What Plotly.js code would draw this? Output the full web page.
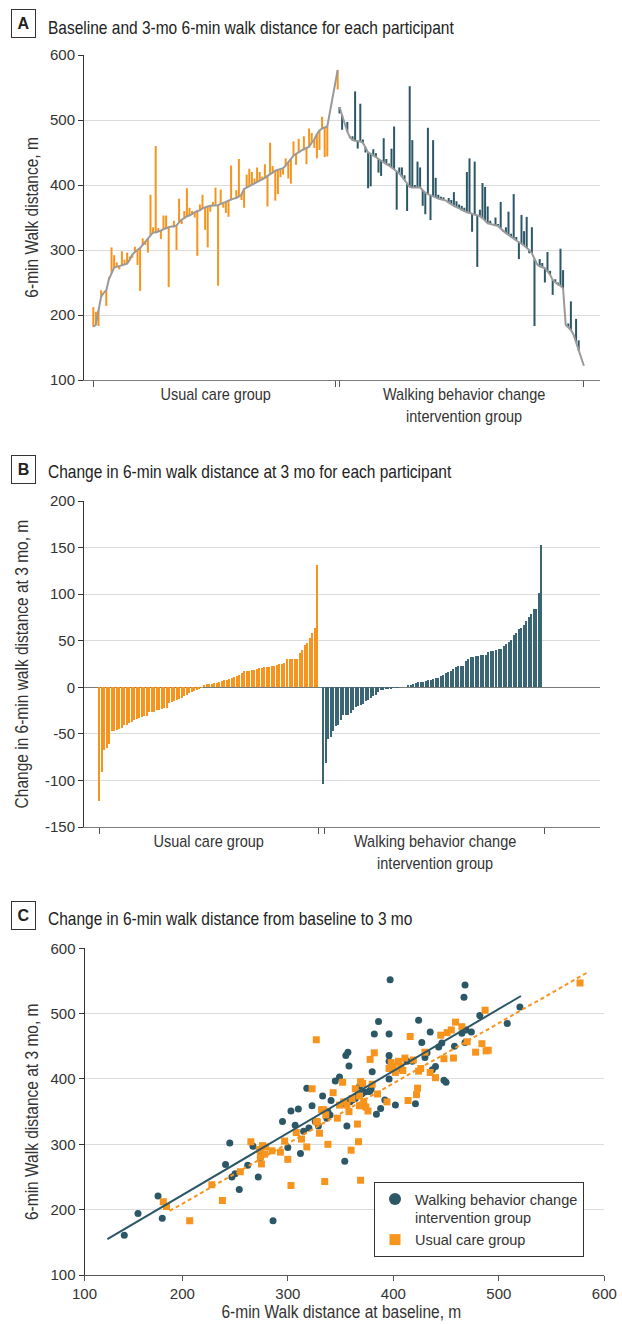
<!DOCTYPE html>
<html><head><meta charset="utf-8">
<script src="https://cdn.plot.ly/plotly-3.0.1.min.js"></script>
<style>html,body{margin:0;padding:0;background:#fff}#chart{width:622px;height:1324px}</style>
</head><body><div id="chart"></div>
<script>
// ---------- DATA ----------
// Panel A / C: usual care participants, ordered by baseline (m)
const ucBaseline = [182,185,207,228,234,238,255,265,273,274,
 275,276,278,279,285,293,297,300,303,308,
 313,318,323,327,327,328,330,332,334,335,
 336,336,338,343,347,349,352,353,356,358,
 360,361,364,366,367,368,368,369,369,371,
 372,374,376,378,379,380,382,385,394,396,
 398,400,402,405,407,409,411,414,416,419,
 422,423,424,426,430,435,440,445,448,451,
 453,455,457,459,465,470,478,484,487,488,
 490,512,535,556,577];
const ucMonth3 = [212,205,183,238,null,214,258,304,292,281,
 270,298,285,296,290,288,305,277,237,318,
 308,296,385,335,460,334,317,353,353,243,
 null,345,300,379,340,360,395,365,360,350,
 291,370,385,331,304,359,374,396,245,393,
 365,357,351,430,null,392,440,377,365,416,
 425,420,410,427,420,413,432,367,465,429,
 376,386,412,416,441,410,402,467,431,471,
 null,475,432,487,480,457,441,454,505,443,
 444,null,null,null,547];
// intervention participants, ordered by baseline (descending)
const intBaseline = [520,508,495,482,474,469,468,468,467,465,
 458,450,448,446,443,440,437,435,432,430,
 427,424,421,418,413,408,402,397,396,396,
 396,396,392,388,386,384,382,380,379,378,
 377,376,373,370,368,366,364,361,359,358,
 357,356,355,354,352,349,345,341,340,339,
 338,337,333,329,326,323,320,318,315,312,
 310,307,303,300,295,286,278,275,274,272,
 267,262,254,250,247,245,241,185,181,177,
 170,158,145,133,122];
const intMonth3 = [510,485,null,497,472,475,544,456,525,470,
 450,395,398,455,449,419,414,472,440,433,
 456,490,362,427,427,415,360,552,469,400,
 436,427,368,355,488,346,469,411,385,382,
 381,null,380,377,389,375,370,368,365,420,
 441,328,436,274,362,403,397,367,345,null,
 350,340,374,328,335,359,325,386,320,286,
 354,329,351,295,335,183,null,286,280,250,
 297,268,231,255,250,302,269,null,187,221,
 null,194,161,null,null];
// Panel B: sorted change at 3 mo (m)
const ucChangeSorted = [-122,-91,-67,-65,-61,-47,-47,-46,-45,-44,
 -41,-40,-38,-37,-35,-34,-33,-32,-31,-31,
 -27,-27,-26,-24,-24,-23,-22,-22,-17,-16,
 -15,-14,-13,-11,-9,-8,-6,-5,-4,-3,-2,-1,
 2,3,4,4,5,5,6,7,8,8,9,10,11,12,13,15,17,18,18,19,19,20,21,21,22,22,22,23,23,24,25,25,26,
 30,30,30,30,30,37,40,45,48,53,58,64,131];
const intChangeSorted = [-104,-81,-56,-53,-47,-42,-40,-35,-30,-30,
 -30,-28,-24,-21,-20,-19,-18,-15,-14,-12,
 -9,-8,-5,-3,-2.5,-2,-2,-1.5,-1,-1,-0.5,
 0,0,0,
 2,2.5,3.5,4.5,6,6,6,7,7.5,8,8.5,9.5,10,12,13,15,16,17,20,22,23,23,23,28,30,32,33,33.5,34,35,35,35,
 38,38.5,39,40,41,41.5,44,47,49,51,56,58,63,64,67,71,75,79,84,84,101,153];
// Panel C: fitted lines
const intFitBaseline = [129, 521], intFit3mo = [155, 527];
const ucFitBaseline = [188, 584], ucFit3mo = [198, 563];
// Text
const groupNames = ['Usual care group', 'Walking behavior change<br>intervention group'];
const legendNames = ['Walking behavior change<br>intervention group', 'Usual care group'];
const panelTitles = ['Baseline and 3-mo 6-min walk distance for each participant',
  'Change in 6-min walk distance at 3 mo for each participant',
  'Change in 6-min walk distance from baseline to 3 mo'];
const yTitles = ['6-min Walk distance, m', 'Change in 6-min walk distance at 3 mo, m', '6-min Walk distance at 3 mo, m'];
const xTitleC = '6-min Walk distance at baseline, m';
const ticksA = [100,200,300,400,500,600];
const ticksB = [-150,-100,-50,0,50,100,150,200];
const ticksCx = [200,300,400,500,600];
const ticksCy = [100,200,300,400,500,600];

// ---------- STYLE ----------
const W = 622, H = 1324;
const ORANGE = '#F7941D', TEAL = '#2B5767', TEALBAR = '#3A6575', GRAY = '#9A9A9A';
const FONT = '"Liberation Sans", Arial, sans-serif';
const px = x => x / W, py = y => 1 - y / H;

// positions (participant rank on the x axis)
const INT_OFFSET_A = 94.7, INT_OFFSET_B = 89.4;
const ucPosA = ucBaseline.map((_, i) => i);
const intPosA = intBaseline.map((_, j) => INT_OFFSET_A + j);
const ucPosB = ucChangeSorted.map((_, i) => i);
const intPosB = intChangeSorted.map((_, j) => INT_OFFSET_B + j);

function segments(pos, base, m3) {
  const xs = [], ys = [];
  pos.forEach((p, i) => { if (m3[i] !== null) { xs.push(p, p, null); ys.push(base[i], m3[i], null); } });
  return {x: xs, y: ys};
}
function pairs(base, m3) {
  const xs = [], ys = [];
  base.forEach((b, i) => { if (m3[i] !== null) { xs.push(b); ys.push(m3[i]); } });
  return {x: xs, y: ys};
}
const ucSeg = segments(ucPosA, ucBaseline, ucMonth3);
const intSeg = segments(intPosA, intBaseline, intMonth3);
const ucPts = pairs(ucBaseline, ucMonth3);
const intPts = pairs(intBaseline, intMonth3);

const traces = [
  // Panel A
  {type:'scatter', mode:'lines', x: ucSeg.x, y: ucSeg.y, xaxis:'x', yaxis:'y', line:{color: ORANGE, width: 2}, connectgaps:false, showlegend:false},
  {type:'scatter', mode:'lines', x: intSeg.x, y: intSeg.y, xaxis:'x', yaxis:'y', line:{color: TEAL, width: 2}, connectgaps:false, showlegend:false},
  {type:'scatter', mode:'lines', x: ucPosA, y: ucBaseline, xaxis:'x', yaxis:'y', line:{color: GRAY, width: 2}, showlegend:false},
  {type:'scatter', mode:'lines', x: intPosA, y: intBaseline, xaxis:'x', yaxis:'y', line:{color: GRAY, width: 2}, showlegend:false},
  // Panel B
  {type:'bar', x: ucPosB, y: ucChangeSorted, xaxis:'x2', yaxis:'y2', width: 0.8, marker:{color: ORANGE, line:{width:0}}, showlegend:false},
  {type:'bar', x: intPosB, y: intChangeSorted, xaxis:'x2', yaxis:'y2', width: 0.8, marker:{color: TEALBAR, line:{width:0}}, showlegend:false},
  // Panel C
  {type:'scatter', mode:'markers', x: intPts.x, y: intPts.y, xaxis:'x3', yaxis:'y3', marker:{symbol:'circle', size:7, color: TEAL}, showlegend:false},
  {type:'scatter', mode:'markers', x: ucPts.x, y: ucPts.y, xaxis:'x3', yaxis:'y3', marker:{symbol:'square', size:7, color: ORANGE}, showlegend:false},
  {type:'scatter', mode:'lines', x: intFitBaseline, y: intFit3mo, xaxis:'x3', yaxis:'y3', line:{color: TEAL, width: 2}, showlegend:false},
  {type:'scatter', mode:'lines', x: ucFitBaseline, y: ucFit3mo, xaxis:'x3', yaxis:'y3', line:{color: ORANGE, width: 2, dash:'4px,3px'}, showlegend:false},
  // legend entries
  {type:'scatter', mode:'markers', x:[null], y:[null], xaxis:'x3', yaxis:'y3', name: legendNames[0], marker:{symbol:'circle', size:12, color: TEAL}, showlegend:true},
  {type:'scatter', mode:'markers', x:[null], y:[null], xaxis:'x3', yaxis:'y3', name: legendNames[1], marker:{symbol:'square', size:11, color: ORANGE}, showlegend:true}
];

const tickFont = {family: FONT, size: 15, color: '#333'};
const baseY = {showline:true, linecolor:'#333', linewidth:1, ticks:'outside', ticklen:5, tickcolor:'#333', tickwidth:1,
  showgrid:true, gridcolor:'#DCDCDC', gridwidth:1, zeroline:false, tickfont: tickFont, fixedrange:true, tickmode:'array'};
const baseX = {showline:true, linecolor:'#7d7d7d', linewidth:1, ticks:'outside', ticklen:6, tickcolor:'#555', tickwidth:1,
  showgrid:false, zeroline:false, tickfont: tickFont, fixedrange:true, tickmode:'array'};

const layout = {
  width: W, height: H, margin:{l:0, r:0, t:0, b:0}, paper_bgcolor:'#fff', plot_bgcolor:'#fff',
  showlegend: true, bargap: 0,
  font:{family: FONT, color:'#333'},
  xaxis: Object.assign({}, baseX, {domain:[px(84), px(600)], range:[-3.58, 194.9], anchor:'y',
    tickvals:[0, 93.2, 94.6, 188.7], ticktext:['','','','']}),
  yaxis: Object.assign({}, baseY, {domain:[py(380), py(55)], range:[100, 600], anchor:'x',
    tickvals: ticksA, ticktext: ticksA.map(String)}),
  xaxis2: Object.assign({}, baseX, {domain:[px(84), px(600)], range:[-6, 199.9], anchor:'y2',
    tickvals:[0, 87.4, 89.8, 177.7], ticktext:['','','','']}),
  yaxis2: Object.assign({}, baseY, {domain:[py(827), py(501)], range:[-150, 200], anchor:'x2',
    tickvals: ticksB, ticktext: ticksB.map(String), zeroline:true, zerolinecolor:'#7a7a7a', zerolinewidth:1.5}),
  xaxis3: Object.assign({}, baseX, {domain:[px(84.5), px(604.3)], range:[107.3, 600], anchor:'y3',
    linecolor:'#555', ticklen:5, tickvals:[107.3].concat(ticksCx), ticktext:['100'].concat(ticksCx.map(String))}),
  yaxis3: Object.assign({}, baseY, {domain:[py(1275), py(948.3)], range:[100, 600], anchor:'x3',
    tickvals: ticksCy, ticktext: ticksCy.map(String)}),
  legend:{x: px(374), y: py(1182), xanchor:'left', yanchor:'top', bordercolor:'#333', borderwidth:1, bgcolor:'#fff',
    font:{family: FONT, size: 14.5, color:'#333'}, valign:'top', tracegroupgap: 0},
  annotations: []
};

// condensed text: drawn at a larger size, then squeezed to the width of the smaller size
const COND = {'18.5px': 15.5/18.5, '17px': 14.5/17, '17.5px': 15.5/17.5};
const LEFT_ALIGNED = '18.5px';
const letters = ['A','B','C'];
const titleY = [27, 472, 918];
letters.forEach((L, k) => {
  layout.annotations.push({xref:'paper', yref:'paper', x: px(23.5), y: py(titleY[k] - 3), xanchor:'center', yanchor:'middle',
    text: L, showarrow:false, font:{family: FONT, size:16, color:'#222', weight: 700},
    bordercolor:'#333', borderwidth:1, borderpad:1.5, width:20, height:24});
  layout.annotations.push({xref:'paper', yref:'paper', x: px(46), y: py(titleY[k]), xanchor:'left', yanchor:'middle',
    text: panelTitles[k], showarrow:false, font:{family: FONT, size:18.5, color:'#222'}});
});
// y axis titles
[[218, 32], [664, 22], [1112, 32]].forEach(([cy, cx], k) => {
  layout.annotations.push({xref:'paper', yref:'paper', x: px(cx), y: py(cy), xanchor:'center', yanchor:'middle',
    textangle:-90, text: yTitles[k], showarrow:false, font:{family: FONT, size:17.5, color:'#333'}});
});
layout.annotations.push({xref:'paper', yref:'paper', x: px(342), y: py(1312), xanchor:'center', yanchor:'middle',
  text: xTitleC, showarrow:false, font:{family: FONT, size:17.5, color:'#333'}});
// group labels
[[215, 383, 464], [208, 830, 435]].forEach(([c1, top, c2]) => {
  layout.annotations.push({xref:'paper', yref:'paper', x: px(c1), y: py(top), xanchor:'center', yanchor:'top',
    text: groupNames[0], showarrow:false, font:{family: FONT, size:17, color:'#333'}});
  layout.annotations.push({xref:'paper', yref:'paper', x: px(c2), y: py(top), xanchor:'center', yanchor:'top',
    text: groupNames[1], showarrow:false, font:{family: FONT, size:17, color:'#333'}});
});

function condense() {
  document.querySelectorAll('text.annotation-text').forEach(t => {
    const fs = t.style.fontSize;
    const r = COND[fs];
    if (!r) return;
    const lines = t.querySelectorAll('tspan.line');
    const els = lines.length ? Array.from(lines) : [t];
    els.forEach(el => {
      const L = el.getComputedTextLength();
      el.setAttribute('textLength', (L * r).toFixed(1));
      el.setAttribute('lengthAdjust', 'spacingAndGlyphs');
      if (fs === LEFT_ALIGNED) {
        const x0 = parseFloat(el.getAttribute('x') || '0');
        el.setAttribute('x', (x0 - L * (1 - r) / 2).toFixed(1));
      }
    });
  });
}
Plotly.newPlot('chart', traces, layout, {displayModeBar:false, staticPlot:true}).then(condense);
</script></body></html>
